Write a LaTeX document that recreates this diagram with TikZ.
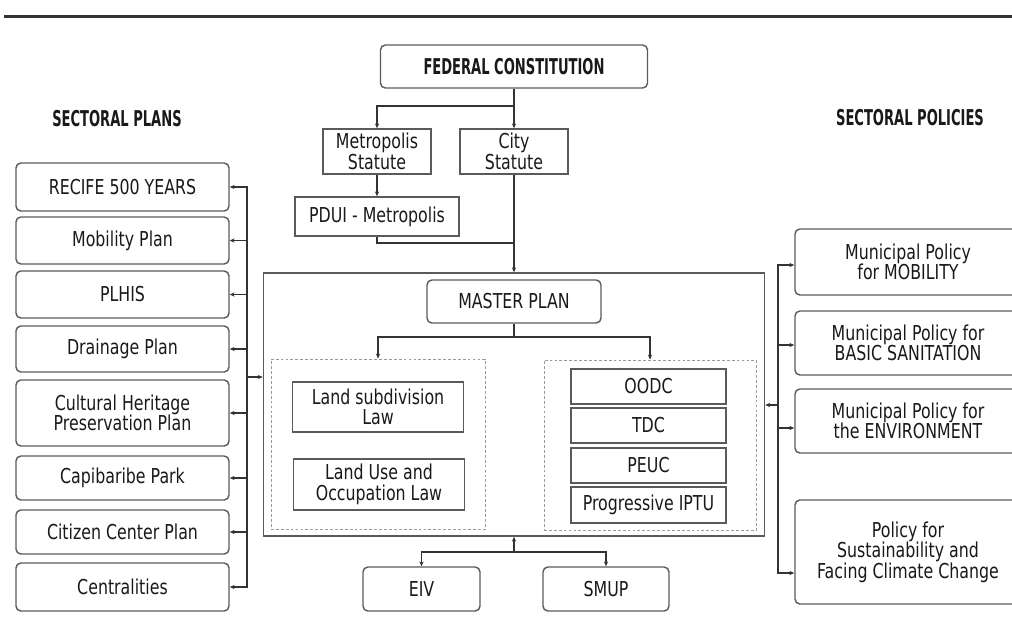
\documentclass[tikz,border=0pt]{standalone}
\usepackage{fontspec}
\setmainfont{DejaVu Sans}[FakeStretch=0.77]
\newfontfamily\headfont{DejaVu Sans}[FakeStretch=0.6]
\usepackage{xcolor}
\usetikzlibrary{arrows.meta,calc}
\definecolor{boxgray}{HTML}{5A5A5A}
\definecolor{linegray}{HTML}{333333}
\definecolor{dashgray}{HTML}{9A9A9A}

\begin{document}
\begin{tikzpicture}[x=0.025cm,y=-0.025cm,
    every node/.style={inner sep=0pt,align=center,text=black!90,font=\fontsize{14.6}{14.5}\selectfont},
    plan/.style={draw=boxgray,line width=1pt,rounded corners=3.5pt},
    law/.style={draw=boxgray,line width=1pt},
    grp/.style={draw=dashgray,line width=0.6pt,dash pattern=on 2pt off 1.5pt},
    head/.style={font=\headfont\bfseries\fontsize{15.5}{15}\selectfont},
    conn/.style={draw=linegray,line width=0.8pt},
    arr/.style={conn,-{Stealth[length=3.5pt,width=3pt]}}]
	\useasboundingbox (0,0) rectangle (1012,621);
	\clip (0,0) rectangle (1012,621);
	% top rule
	\draw[line width=2pt, black!80] (4,16.5) -- (1012,16.5);
	% headings
	\node[plan, head, minimum width=6.675cm, minimum height=1.075cm] (fed) at (514,66.5) {FEDERAL CONSTITUTION};
	\node[head] (plans) at (117,119) {SECTORAL PLANS};
	\node[head] (policies) at (910,118) {SECTORAL POLICIES};
	% statutes
	\node[law, minimum width=2.7cm, minimum height=1.125cm] (metro) at (377,151.5) {Metropolis\\Statute};
	\node[law, minimum width=2.7cm, minimum height=1.125cm] (city) at (514,151.5) {City\\Statute};
	\node[law, minimum width=4.1cm, minimum height=0.975cm] (pdui) at (377,216.5) {PDUI - Metropolis};
	% master plan block
	\node[law, minimum width=12.525cm, minimum height=6.575cm] (master) at (514,404.5) {};
	\node[plan, minimum width=4.35cm, minimum height=1.075cm] (mp) at (514,301.5) {MASTER PLAN};
	\node[grp, minimum width=5.35cm, minimum height=4.25cm] (landgrp) at (378,444) {};
	\node[grp, minimum width=5.3cm, minimum height=4.25cm] (toolgrp) at (650,445) {};
	\node[law, minimum width=4.275cm, minimum height=1.25cm] (lsub) at (378,407) {Land subdivision\\Law};
	\node[law, minimum width=4.275cm, minimum height=1.275cm] (luse) at (379,484.5) {Land Use and\\Occupation Law};
	\foreach \name/\txt/\yy/\hh in {oodc/OODC/386.5/0.875, tdc/TDC/425.5/0.875, peuc/PEUC/465.5/0.875, iptu/Progressive IPTU/505/0.9}
		\node[law, minimum width=3.875cm, minimum height=\hh cm] (\name) at (648.5,\yy) {\txt};
	% sectoral plans
	\foreach \name/\txt/\yy/\hh in {recife/RECIFE 500 YEARS/187/1.2, mobility/Mobility Plan/240.5/1.175,
		plhis/PLHIS/294.5/1.175, drainage/Drainage Plan/349/1.15,
		heritage/{Cultural Heritage\\Preservation Plan}/413/1.65, capibaribe/Capibaribe Park/478/1.1,
		citizen/Citizen Center Plan/532/1.1, centralities/Centralities/587/1.2}
		\node[plan, minimum width=5.325cm, minimum height=\hh cm] (\name) at (122.5,\yy) {\txt};
	% sectoral policies
	\foreach \name/\txt/\yy/\hh in {mobpol/{Municipal Policy\\for MOBILITY}/262/1.65,
		sanitpol/{Municipal Policy for\\BASIC SANITATION}/343/1.6,
		envpol/{Municipal Policy for\\the ENVIRONMENT}/421/1.6,
		climpol/{Policy for\\Sustainability and\\Facing Climate Change}/552/2.6}
		\node[plan, minimum width=5.65cm, minimum height=\hh cm] (\name) at (908,\yy) {\txt};
	% instruments
	\node[plan, minimum width=2.925cm, minimum height=1.1cm] (eiv) at (421.5,589) {EIV};
	\node[plan, minimum width=3.15cm, minimum height=1.1cm] (smup) at (606,589) {SMUP};

	% connectors
	\coordinate (fj) at (514,106);
	\coordinate (pj) at (514,243);
	\coordinate (mj) at (514,337);
	\coordinate (lj) at (247,377);
	\coordinate (rj) at (778,405);
	\coordinate (bj) at (514,552);
	\draw[arr] (fed.south) -- (city.north);
	\draw[arr] (fj) -| (metro.north);
	\draw[arr] (metro.south) -- (pdui.north);
	\draw[arr] (city.south) -- (master.north);
	\draw[conn] (pdui.south) |- (pj);
	\draw[conn] (mp.south) -- (mj);
	\draw[arr] (mj) -| (landgrp.north);
	\draw[arr] (mj) -| (toolgrp.north);
	\draw[arr] (lj) -- (master.west |- lj);
	\foreach \name in {recife,mobility,plhis,drainage,heritage,capibaribe,citizen,centralities}
		\draw[arr] (lj) |- (\name.east);
	\draw[arr] (rj) -- (master.east |- rj);
	\draw[arr] (rj) |- ($(mobpol.west)+(0,3)$);
	\draw[arr] (rj) |- ($(sanitpol.west)+(0,2)$);
	\draw[arr] (rj) |- ($(envpol.west)+(0,7)$);
	\draw[arr] (rj) |- ($(climpol.west)+(0,21)$);
	\draw[arr] (bj) -- (master.south);
	\draw[arr] (bj) -| (eiv.north);
	\draw[arr] (bj) -| (smup.north);
\end{tikzpicture}
\end{document}
